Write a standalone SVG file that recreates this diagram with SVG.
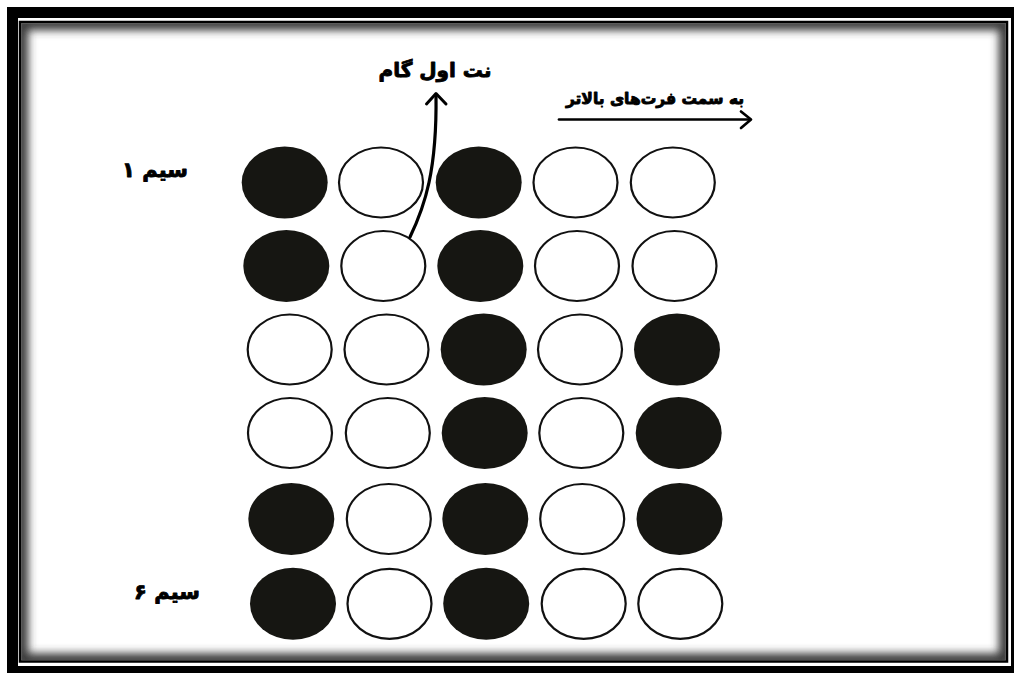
<svg xmlns="http://www.w3.org/2000/svg" width="1014" height="673" viewBox="0 0 1014 673">
  <style>
    .on { fill: #161612; stroke: none; }
    .off { fill: #ffffff; stroke: #111; stroke-width: 2.2; }
    .lbl { font-family: "DejaVu Sans", "Noto Sans", sans-serif; font-weight: bold; fill: #000; stroke: #000; stroke-width: 0.9; stroke-linejoin: round; text-anchor: middle; direction: rtl; }
    .conn { fill: none; stroke: #000; stroke-linecap: round; stroke-linejoin: round; }
  </style>
  <defs>
    <clipPath id="inner">
      <rect x="21.25" y="23.25" width="984.5" height="637"/>
    </clipPath>
    <filter id="blur" x="-5%" y="-5%" width="110%" height="110%">
      <feGaussianBlur stdDeviation="4.5"/>
    </filter>
  </defs>

  <g id="frame">
    <rect x="0" y="0" width="1014" height="673" fill="#fff"/>
    <rect x="7" y="7" width="1007" height="666" fill="#000"/>
    <rect x="18" y="18" width="993" height="648" fill="#fff"/>
    <g clip-path="url(#inner)">
      <rect x="21.25" y="23.25" width="984.5" height="637" fill="none" stroke="#3a3a3a" stroke-width="14" filter="url(#blur)"/>
    </g>
    <rect x="20" y="22" width="987" height="639.5" fill="none" stroke="#000" stroke-width="2.5"/>
  </g>

  <g id="labels">
    <text id="label-first-note" class="lbl" x="435" y="77" font-size="20">نت اول گام</text>
    <text id="label-higher-frets" class="lbl" x="655" y="104" font-size="15.5">به سمت فرت&#8204;های بالاتر</text>
    <text id="label-string1" class="lbl" x="155" y="177" font-size="21">سیم ۱</text>
    <text id="label-string6" class="lbl" x="167" y="599" font-size="21">سیم ۶</text>
  </g>

  <g id="nodes">
    <g id="r1c1"><ellipse class="on" cx="284.7" cy="182.5" rx="43" ry="36"/></g>
    <g id="r1c2"><ellipse class="off" cx="381" cy="182.5" rx="42" ry="35"/></g>
    <g id="r1c3"><ellipse class="on" cx="478.7" cy="182.5" rx="43" ry="36"/></g>
    <g id="r1c4"><ellipse class="off" cx="575.5" cy="182.5" rx="42" ry="35"/></g>
    <g id="r1c5"><ellipse class="off" cx="672.8" cy="182.5" rx="42" ry="35"/></g>

    <g id="r2c1"><ellipse class="on" cx="286.3" cy="266" rx="43" ry="36"/></g>
    <g id="r2c2"><ellipse class="off" cx="383.3" cy="266" rx="42" ry="35"/></g>
    <g id="r2c3"><ellipse class="on" cx="480.3" cy="266" rx="43" ry="36"/></g>
    <g id="r2c4"><ellipse class="off" cx="577" cy="266" rx="42" ry="35"/></g>
    <g id="r2c5"><ellipse class="off" cx="674.5" cy="266" rx="42" ry="35"/></g>

    <g id="r3c1"><ellipse class="off" cx="289.7" cy="349.5" rx="42" ry="35"/></g>
    <g id="r3c2"><ellipse class="off" cx="386.5" cy="349.5" rx="42" ry="35"/></g>
    <g id="r3c3"><ellipse class="on" cx="483.7" cy="349.5" rx="43" ry="36"/></g>
    <g id="r3c4"><ellipse class="off" cx="580" cy="349.5" rx="42" ry="35"/></g>
    <g id="r3c5"><ellipse class="on" cx="677" cy="349.5" rx="43" ry="36"/></g>

    <g id="r4c1"><ellipse class="off" cx="290" cy="433" rx="42" ry="35"/></g>
    <g id="r4c2"><ellipse class="off" cx="387.8" cy="433" rx="42" ry="35"/></g>
    <g id="r4c3"><ellipse class="on" cx="484.7" cy="433" rx="43" ry="36"/></g>
    <g id="r4c4"><ellipse class="off" cx="581.3" cy="433" rx="42" ry="35"/></g>
    <g id="r4c5"><ellipse class="on" cx="678.7" cy="433" rx="43" ry="36"/></g>

    <g id="r5c1"><ellipse class="on" cx="291.3" cy="519" rx="43" ry="36"/></g>
    <g id="r5c2"><ellipse class="off" cx="388.8" cy="519" rx="42" ry="35"/></g>
    <g id="r5c3"><ellipse class="on" cx="485.3" cy="519" rx="43" ry="36"/></g>
    <g id="r5c4"><ellipse class="off" cx="582.2" cy="519" rx="42" ry="35"/></g>
    <g id="r5c5"><ellipse class="on" cx="679.5" cy="519" rx="43" ry="36"/></g>

    <g id="r6c1"><ellipse class="on" cx="293" cy="603.8" rx="43" ry="36"/></g>
    <g id="r6c2"><ellipse class="off" cx="389.5" cy="603.8" rx="42" ry="35"/></g>
    <g id="r6c3"><ellipse class="on" cx="486.2" cy="603.8" rx="43" ry="36"/></g>
    <g id="r6c4"><ellipse class="off" cx="583.7" cy="603.8" rx="42" ry="35"/></g>
    <g id="r6c5"><ellipse class="off" cx="680.3" cy="603.8" rx="42" ry="35"/></g>
  </g>

  <g id="connectors">
    <path class="conn" d="M 410 237 C 425 206, 437 170, 436 95" stroke-width="3.2"/>
    <path class="conn" d="M 426.5 104 L 436 93.5 L 446 104" stroke-width="3"/>
    <path class="conn" d="M 559 119.5 L 750 119.5" stroke-width="2.7"/>
    <path class="conn" d="M 741 111.5 L 751 119.5 L 741 128" stroke-width="2.7"/>
  </g>
</svg>
